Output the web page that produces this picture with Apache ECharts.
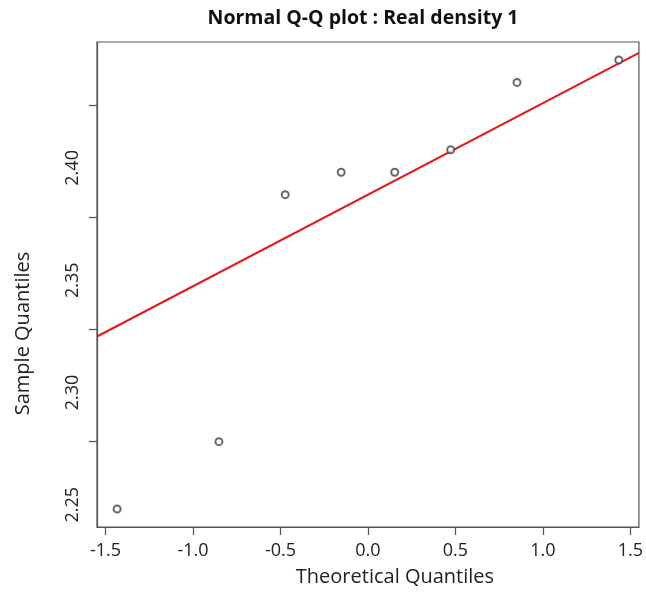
<!DOCTYPE html>
<html>
<head>
<meta charset="utf-8">
<script src="https://cdn.jsdelivr.net/npm/echarts@6/dist/echarts.min.js"></script>
<style>
html,body{margin:0;padding:0;background:#fff;}
#chart{width:646px;height:594px;}
</style>
</head>
<body>
<div id="chart"></div>
<script>
// Data
const theoretical = [-1.434, -0.852, -0.473, -0.153, 0.153, 0.473, 0.852, 1.434];
const sample = [2.22, 2.25, 2.36, 2.37, 2.37, 2.38, 2.41, 2.42];
const xTicks = [-1.5, -1.0, -0.5, 0.0, 0.5, 1.0, 1.5];
const yTicks = [2.25, 2.30, 2.35, 2.40];
const titleText = 'Normal Q-Q plot : Real density 1';
const xName = 'Theoretical Quantiles';
const yName = 'Sample Quantiles';

const FONT = 'Open Sans';
const xMin = -1.549, xMax = 1.549;
const yMin = 2.212, yMax = 2.428;

// qqline through 1st and 3rd quartiles (R type 7 quantiles)
function quantile(arr, p) {
  const s = arr.slice().sort((a, b) => a - b);
  const h = (s.length - 1) * p;
  const lo = Math.floor(h);
  return s[lo] + (h - lo) * ((s[lo + 1] !== undefined ? s[lo + 1] : s[lo]) - s[lo]);
}
const z75 = 0.6744897501960817;
const q1 = quantile(sample, 0.25), q3 = quantile(sample, 0.75);
const slope = (q3 - q1) / (2 * z75);
const intercept = q1 + z75 * slope;
const lineData = [[xMin, intercept + slope * xMin], [xMax, intercept + slope * xMax]];

const chart = echarts.init(document.getElementById('chart'), null, {renderer: 'canvas'});
chart.setOption({
  animation: false,
  backgroundColor: '#fff',
  title: {
    text: titleText,
    left: 358, top: 3, textAlign: 'center',
    textStyle: {fontFamily: FONT, fontWeight: 'bold', fontSize: 19.5, color: '#111'}
  },
  grid: {
    left: 97, right: 7, top: 42, bottom: 67,
    show: true, borderColor: '#555', borderWidth: 1.2, backgroundColor: 'transparent'
  },
  xAxis: {
    type: 'value', min: xMin, max: xMax,
    name: xName, nameLocation: 'middle', nameGap: 40,
    nameTextStyle: {fontFamily: FONT, fontSize: 20, color: '#222', padding: [0, 0, 0, 54]},
    axisLine: {show: true, onZero: false, lineStyle: {color: '#555', width: 1.2}},
    axisTick: {show: true, length: 8, customValues: xTicks, lineStyle: {color: '#555', width: 1.2}},
    axisLabel: {customValues: xTicks, margin: 15, fontFamily: FONT, fontSize: 18, color: '#222',
      formatter: v => v.toFixed(1)},
    splitLine: {show: false}
  },
  yAxis: {
    type: 'value', min: yMin, max: yMax,
    name: yName, nameLocation: 'middle', nameGap: 64,
    nameTextStyle: {fontFamily: FONT, fontSize: 20, color: '#222', padding: [0, 98, 0, 0]},
    axisLine: {show: true, onZero: false, lineStyle: {color: '#555', width: 1.2}},
    axisTick: {show: true, length: 8, customValues: yTicks, lineStyle: {color: '#555', width: 1.2}},
    axisLabel: {customValues: yTicks, rotate: 90, margin: 15, fontFamily: FONT, fontSize: 18, color: '#222',
      padding: [0, 126, 0, 0],
      formatter: v => v.toFixed(2)},
    splitLine: {show: false}
  },
  series: [
    {
      type: 'line', data: lineData, symbol: 'none', clip: true,
      lineStyle: {color: '#e31a1c', width: 2}, z: 2
    },
    {
      type: 'scatter', data: theoretical.map((x, i) => [x, sample[i]]),
      symbol: 'emptyCircle', symbolSize: 7,
      itemStyle: {color: '#444', borderColor: '#444', borderWidth: 1.2}, z: 3
    }
  ]
});
</script>
</body>
</html>
